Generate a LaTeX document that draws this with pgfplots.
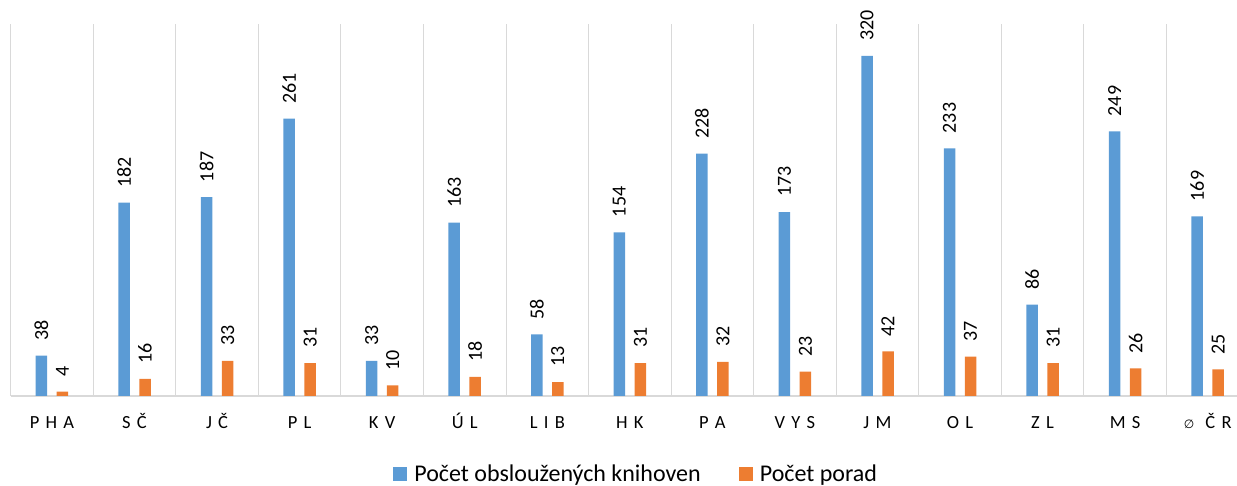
\documentclass[border=0pt]{standalone}
\usepackage{fontspec}
\setmainfont{Carlito}
\newfontfamily\dejavu{DejaVu Sans}
\usepackage{pgfplots}
\pgfplotsset{compat=1.18}
\definecolor{cblue}{HTML}{5B9BD5}
\definecolor{corange}{HTML}{ED7D31}
\definecolor{cgrid}{HTML}{D9D9D9}
\newcommand\s{\hspace{0.34em}}
\begin{document}
\begin{tikzpicture}
\useasboundingbox (0,0) rectangle (1237pt,486pt);
\begin{axis}[
  at={(10.7pt,90pt)}, anchor=south west,
  scale only axis,
  width=1226.3pt, height=372pt,
  xmin=-0.5, xmax=14.355,
  ymin=0, ymax=350,
  axis y line=none,
  axis x line*=bottom,
  x axis line style={cgrid, line width=1.5pt},
  xtick={0,...,14},
  xticklabels={P\s H\s A, S\s Č, J\s Č, P\s L, K\s V, Ú\s L, L\s I\s B, H\s K, P\s A, V\s Y\s S, J\s M, O\s L, Z\s L, M\s S, {{\dejavu\fontsize{12}{12}\selectfont ∅}\hspace{0.6em}Č\s R}},
  minor xtick={-0.5,0.5,...,13.5},
  xminorgrids=true,
  minor grid style={cgrid, line width=1pt},
  major tick length=0pt, minor tick length=0pt,
  xticklabel style={anchor=base, yshift=-33pt, font=\fontsize{18.5}{20}\selectfont},
  ybar,
  bar width=11.5pt,
  nodes near coords,
  /pgf/number format/assume math mode=true,
  every node near coord/.append style={rotate=90, anchor=west, inner xsep=15pt, inner ysep=0pt, font=\fontsize{20}{22}\selectfont, text=black},
  legend style={at={(0.5105,-0.209)}, anchor=center, draw=none, fill=none,
    legend columns=-1, font=\fontsize{24}{26}\selectfont,
    nodes={inner xsep=3pt},
    /tikz/every odd column/.append style={column sep=4pt},
    /tikz/every even column/.append style={column sep=35pt}},
  legend image code/.code={\fill[#1] (0pt,-7pt) rectangle (14pt,7pt);},
  clip=false,
]
\addplot[fill=cblue, draw=none, bar shift=-10.5pt] coordinates {
(0,38) (1,182) (2,187) (3,261) (4,33) (5,163) (6,58) (7,154) (8,228) (9,173) (10,320) (11,233) (12,86) (13,249) (14,169)};
\addplot[fill=corange, draw=none, bar shift=10.5pt] coordinates {
(0,4) (1,16) (2,33) (3,31) (4,10) (5,18) (6,13) (7,31) (8,32) (9,23) (10,42) (11,37) (12,31) (13,26) (14,25)};
\legend{Počet obsloužených knihoven, Počet porad}
\end{axis}
\end{tikzpicture}
\end{document}
